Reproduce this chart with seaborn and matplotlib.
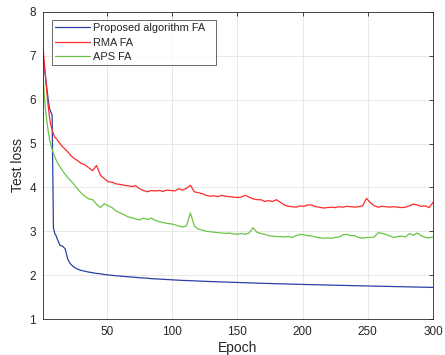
import numpy as np
import pandas as pd
import matplotlib
matplotlib.use("Agg")
import matplotlib.pyplot as plt
import seaborn as sns

# ---- data ----
epochs = [1, 2, 3, 4, 5, 6, 7, 8, 9, 10, 11, 12, 14, 16, 18, 20, 22, 24, 26, 28, 30,
          33, 36, 39, 42, 45, 48, 51, 54, 57, 60, 63, 66, 69, 72, 75, 78, 81, 84, 87, 90,
          93, 96, 99, 102, 105, 108, 111, 114, 117, 120, 123, 126, 129, 132, 135, 138, 141, 144, 147, 150,
          153, 156, 159, 162, 165, 168, 171, 174, 177, 180, 183, 186, 189, 192, 195, 198, 201, 204, 207, 210,
          213, 216, 219, 222, 225, 228, 231, 234, 237, 240, 243, 246, 249, 252, 255, 258, 261, 264, 267, 270,
          273, 276, 279, 282, 285, 288, 291, 294, 297, 300]

proposed = [7.0, 6.75, 6.5, 6.25, 6.0, 5.8, 5.72, 5.65, 3.08, 2.95, 2.9, 2.82, 2.68, 2.66, 2.6, 2.36, 2.26, 2.2, 2.16, 2.13, 2.11,
            2.09, 2.07, 2.055, 2.04, 2.03, 2.015, 2.005, 1.995, 1.985, 1.98,
            1.97, 1.965, 1.955, 1.95, 1.94, 1.935, 1.93, 1.92, 1.915, 1.91,
            1.905, 1.9, 1.895, 1.89, 1.885, 1.88, 1.877, 1.873, 1.87, 1.866,
            1.862, 1.858, 1.855, 1.851, 1.848, 1.845, 1.842, 1.839, 1.836, 1.833,
            1.83, 1.827, 1.824, 1.821, 1.818, 1.815, 1.812, 1.81, 1.807, 1.804,
            1.802, 1.8, 1.797, 1.795, 1.792, 1.79, 1.788, 1.785, 1.783, 1.781,
            1.779, 1.777, 1.775, 1.772, 1.77, 1.768, 1.766, 1.764, 1.762, 1.76,
            1.758, 1.756, 1.754, 1.752, 1.75, 1.748, 1.746, 1.744, 1.742, 1.74,
            1.738, 1.736, 1.734, 1.732, 1.73, 1.728, 1.726, 1.724, 1.722, 1.72]

rma = [7.19, 6.85, 6.5, 6.15, 5.85, 5.6, 5.42, 5.32, 5.22, 5.15, 5.12, 5.08, 5.0, 4.93, 4.87, 4.81, 4.74, 4.68, 4.64, 4.6, 4.55,
       4.52, 4.45, 4.38, 4.5, 4.28, 4.2, 4.13, 4.12, 4.08, 4.07,
       4.05, 4.04, 4.02, 4.04, 3.97, 3.93, 3.9, 3.93, 3.92, 3.93,
       3.91, 3.94, 3.93, 3.92, 3.97, 3.94, 3.98, 4.05, 3.9, 3.88,
       3.86, 3.82, 3.8, 3.81, 3.79, 3.82, 3.8, 3.79, 3.78, 3.77,
       3.78, 3.82, 3.78, 3.74, 3.72, 3.72, 3.68, 3.7, 3.68, 3.72,
       3.66, 3.6, 3.57, 3.56, 3.55, 3.58, 3.57, 3.6, 3.6, 3.56,
       3.55, 3.53, 3.54, 3.55, 3.54, 3.56, 3.55, 3.57, 3.56, 3.55,
       3.56, 3.58, 3.75, 3.65, 3.58, 3.55, 3.57, 3.56, 3.55, 3.56,
       3.55, 3.54, 3.55, 3.58, 3.62, 3.6, 3.57, 3.58, 3.54, 3.66]

aps = [6.59, 6.1, 5.75, 5.5, 5.28, 5.1, 4.97, 4.87, 4.78, 4.7, 4.63, 4.57, 4.47, 4.38, 4.3, 4.22, 4.16, 4.1, 4.02, 3.95, 3.88,
       3.8, 3.74, 3.72, 3.62, 3.54, 3.63, 3.58, 3.54, 3.46, 3.42,
       3.38, 3.33, 3.31, 3.28, 3.26, 3.3, 3.27, 3.3, 3.25, 3.22,
       3.2, 3.18, 3.17, 3.15, 3.12, 3.1, 3.12, 3.42, 3.12, 3.05,
       3.03, 3.0, 2.99, 2.98, 2.97, 2.96, 2.95, 2.96, 2.94, 2.93,
       2.95, 2.93, 2.96, 3.08, 2.98, 2.95, 2.93, 2.9, 2.89, 2.88,
       2.88, 2.87, 2.88, 2.86, 2.9, 2.93, 2.92, 2.9, 2.89, 2.87,
       2.85, 2.84, 2.85, 2.84, 2.86, 2.87, 2.92, 2.93, 2.9, 2.9,
       2.86, 2.84, 2.86, 2.86, 2.87, 2.97, 2.95, 2.93, 2.89, 2.86,
       2.88, 2.89, 2.87, 2.95, 2.91, 2.96, 2.9, 2.86, 2.85, 2.87]

series_names = ["Proposed algorithm FA", "RMA FA", "APS FA"]
series_colors = ["#2a40a6", "#ff2b2b", "#6cc444"]
x_ticks = [50, 100, 150, 200, 250, 300]
y_ticks = [1, 2, 3, 4, 5, 6, 7, 8]

df = pd.DataFrame({
    "Epoch": epochs * 3,
    "Test loss": proposed + rma + aps,
    "Method": [series_names[0]] * len(epochs) + [series_names[1]] * len(epochs) + [series_names[2]] * len(epochs),
})

sns.set_style("white")
plt.rcParams["font.family"] = ["Liberation Sans", "DejaVu Sans"]

fig = plt.figure(figsize=(4.45, 3.55), dpi=100)
ax = fig.add_axes([43 / 445, 1 - 319 / 355, 390 / 445, 307 / 355])

sns.lineplot(data=df, x="Epoch", y="Test loss", hue="Method",
             palette=dict(zip(series_names, series_colors)), linewidth=0.9, ax=ax)

ax.set_xlim(1, 300)
ax.set_ylim(1, 8)
ax.set_xticks(x_ticks)
ax.set_yticks(y_ticks)
ax.grid(True, color="#e8e8e8", linewidth=0.7)
ax.set_axisbelow(True)
for s in ax.spines.values():
    s.set_visible(True)
    s.set_color("#262626")
    s.set_linewidth(0.6)
ax.tick_params(direction="in", length=3, width=0.6, top=True, right=True,
               labelsize=8.5, colors="#262626", pad=5)
ax.set_xlabel("Epoch", fontsize=10, color="#262626", labelpad=2)
ax.set_ylabel("Test loss", fontsize=10, color="#262626", labelpad=3)

leg = ax.legend(loc="upper left", bbox_to_anchor=(0.023, 0.974, 0.42, 0.0),
                mode="expand", fontsize=7.9,
                frameon=True, fancybox=False, edgecolor="#262626",
                handlelength=3.2, handletextpad=0.2, borderpad=0.3,
                labelspacing=0.4, borderaxespad=0)
leg.get_frame().set_linewidth(0.6)

fig.savefig("out.png", dpi=100)
